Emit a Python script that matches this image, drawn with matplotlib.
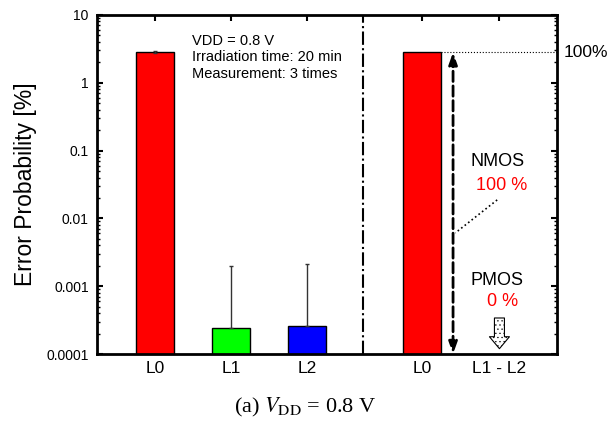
import matplotlib
matplotlib.use("Agg")
import matplotlib.pyplot as plt
from matplotlib.ticker import LogLocator, NullFormatter

plt.rcParams['font.family'] = ['Liberation Sans', 'DejaVu Sans']
plt.rcParams['mathtext.fontset'] = 'stix'
plt.rcParams['hatch.linewidth'] = 0.4

# data
left_labels = ['L0', 'L1', 'L2']
left_values = [2.8, 2.4e-4, 2.6e-4]
left_err_lo = [0.1, 0.0, 0.0]
left_err_hi = [0.1, 1.75e-3, 1.85e-3]
left_colors = ['#ff0000', '#00ff00', '#0000ff']

right_labels = ['L0', 'L1 - L2']
right_values = [2.8]
nmos_share = '100 %'
pmos_share = '0 %'
yticks = [1e-4, 1e-3, 1e-2, 1e-1, 1, 10]
ytick_labels = ['0.0001', '0.001', '0.01', '0.1', '1', '10']

# x positions
xl = [0, 1, 2]
xr = [3.51, 4.53]
x_div = 2.74
bw = 0.5

fig = plt.figure(figsize=(6.11, 4.24), dpi=100)
ax = fig.add_axes([0.159, 0.165, 0.753, 0.800])

ax.bar(xl, left_values, width=bw, color=left_colors, edgecolor='black', linewidth=1, zorder=2)
ax.errorbar(xl, left_values, yerr=[left_err_lo, left_err_hi], fmt='none',
            ecolor='#333333', elinewidth=1, capsize=1.5, zorder=3)
ax.bar(xr[0], right_values[0], width=bw, color='#ff0000', edgecolor='black', linewidth=1, zorder=2)

ax.set_yscale('log')
ax.set_ylim(1e-4, 10)
ax.set_xlim(-0.76, 5.29)

# divider
ax.axvline(x_div, color='black', linestyle='-.', linewidth=1.5, zorder=1)

# dotted level line and 100% label
ax.plot([xr[0] + bw / 2, 5.29], [right_values[0], right_values[0]], color='black',
        linestyle=':', linewidth=0.8, clip_on=False)
ax.text(5.37, right_values[0], '100%', ha='left', va='center', fontsize=12.5, clip_on=False)

# dashed double arrow
ax.annotate('', xy=(3.92, 1e-4), xytext=(3.92, right_values[0]),
            arrowprops=dict(arrowstyle='<|-|>,head_length=0.7,head_width=0.25',
                            linestyle='--', linewidth=2, color='black',
                            shrinkA=0, shrinkB=0))

# NMOS / PMOS labels
ax.text(4.5, 0.068, 'NMOS', ha='center', va='center', fontsize=13)
ax.text(4.56, 0.031, nmos_share, ha='center', va='center', fontsize=13, color='red')
ax.plot([4.5, 3.95], [0.0187, 0.0061], color='black', linestyle=':', linewidth=1.2)
ax.text(4.5, 1.23e-3, 'PMOS', ha='center', va='center', fontsize=13)
ax.text(4.57, 5.85e-4, pmos_share, ha='center', va='center', fontsize=13, color='red')

# hollow hatched down arrow
ax.annotate('', xy=(4.53, 1.2e-4), xytext=(4.53, 3.4e-4),
            arrowprops=dict(arrowstyle='simple,head_width=0.72,head_length=0.43,tail_width=0.36',
                            mutation_scale=20, fc='white', ec='black', hatch='....',
                            linewidth=0.8, shrinkA=0, shrinkB=0))

# info text
ax.text(0.49, 5.2, 'VDD = 0.8 V\nIrradiation time: 20 min\nMeasurement: 3 times',
        ha='left', va='top', fontsize=10.5, linespacing=1.2)

# ticks
ax.set_yticks(yticks)
ax.set_yticklabels(ytick_labels)
ax.yaxis.set_minor_locator(LogLocator(base=10, subs=range(2, 10)))
ax.yaxis.set_minor_formatter(NullFormatter())
ax.set_xticks(xl + xr)
ax.set_xticklabels(left_labels + right_labels)
ax.tick_params(axis='y', which='major', direction='in', length=4, width=1.5,
               right=True, labelsize=10, pad=6)
ax.tick_params(axis='y', which='minor', direction='in', length=2, width=1, right=True)
ax.tick_params(axis='x', direction='in', length=4, width=1.5, top=True, bottom=False,
               labelsize=12.5, pad=5)

for s in ax.spines.values():
    s.set_linewidth(2)

ax.set_ylabel('Error Probability [%]', fontsize=16.5)
ax.yaxis.set_label_coords(-0.13, 0.5)

fig.text(0.5, 0.038, r'(a) $V_{\rm DD}$ = 0.8 V', ha='center', va='center',
         fontsize=16, family=['Liberation Serif', 'DejaVu Serif'])

fig.savefig('out.png', dpi=100)
